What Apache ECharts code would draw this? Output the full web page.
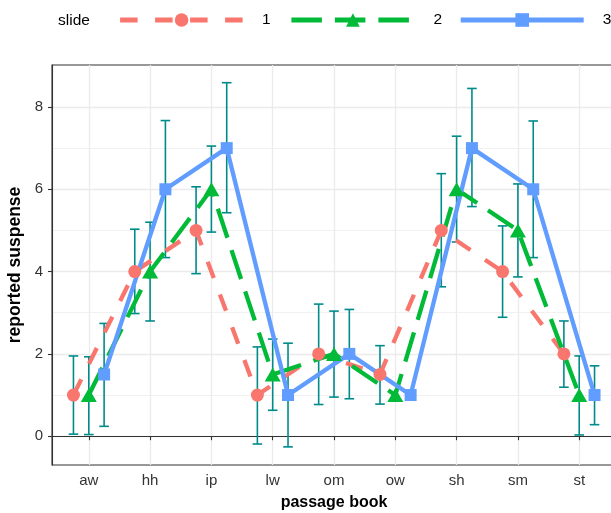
<!DOCTYPE html>
<html><head><meta charset="utf-8">
<script src="https://cdn.jsdelivr.net/npm/echarts@6/dist/echarts.min.js"></script>
<style>html,body{margin:0;padding:0;background:#fff}#c{width:611px;height:513px}</style>
</head><body><div id="c"></div>
<script>
const categories = ['aw','hh','ip','lw','om','ow','sh','sm','st'];
const seriesNames = ['1','2','3'];
const mean1 = [1,4,5,1,2,1.5,5,4,2];
const mean2 = [1,4,6,1.5,2,1,6,5,1];
const mean3 = [1.5,6,7,1,2,1,7,6,1];
const low1  = [0.05,2.98,3.95,-0.19,0.77,0.78,3.63,2.89,1.19];
const high1 = [1.95,5.03,6.06,2.17,3.21,2.2,6.38,5.11,2.8];
const low2  = [0.04,2.8,4.96,0.63,0.95,null,4.72,3.87,0.03];
const high2 = [1.93,5.2,7.05,2.36,3.04,null,7.29,6.13,1.95];
const low3  = [0.24,4.34,5.43,-0.26,0.91,null,5.58,4.34,0.28];
const high3 = [2.74,7.67,8.59,2.26,3.08,null,8.45,7.66,1.71];
const yTicks = [0,2,4,6,8];
const yMinor = [1,3,5,7];

const means = [mean1, mean2, mean3];
const lows = [low1, low2, low3];
const highs = [high1, high2, high3];
const offsets = [-0.25, 0, 0.25];
const colors = ['#F8766D', '#00BA38', '#619CFF'];
const dashes = [[17.5,17.5],[30.5,13],'solid'];
const symbols = ['circle','triangle','rect'];
const symSizes = [13,[16,14],12];
const FONT = '"Liberation Sans", Arial, sans-serif';

const chart = echarts.init(document.getElementById('c'), null, {renderer:'canvas'});

const errData = [];
for (let k = 0; k < 3; k++) {
  for (let i = 0; i < categories.length; i++) {
    if (lows[k][i] !== null && highs[k][i] !== null) {
      errData.push([i + 1 + offsets[k], lows[k][i], highs[k][i]]);
    }
  }
}

const lineSeries = [0,1,2].map(k => ({
  name: seriesNames[k],
  type: 'line',
  z: 3,
  data: means[k].map((v, i) => [i + 1 + offsets[k], v]),
  symbol: symbols[k],
  symbolSize: symSizes[k],
  showSymbol: true,
  itemStyle: {color: colors[k]},
  lineStyle: {color: colors[k], width: 4.3, type: dashes[k], cap: 'butt'},
  emphasis: {disabled: true},
  animation: false
}));

const legendLefts = [112.7, 284, 453.3];
const legends = [0,1,2].map(k => ({
  data: [seriesNames[k]],
  left: legendLefts[k],
  top: 7,
  itemWidth: 123,
  itemHeight: 17,
  selectedMode: false,
  lineStyle: {width: 4.8},
  textStyle: {fontFamily: FONT, fontSize: 15.5, color: '#000', padding: [0,0,0,14]}
}));

chart.setOption({
  animation: false,
  backgroundColor: '#fff',
  legend: legends,
  graphic: [{
    type: 'text', left: 58, top: 13,
    style: {text: 'slide', font: '15.5px ' + FONT, fill: '#000'}
  }],
  grid: {left: 52, top: 65, width: 564, height: 400, show: true, borderColor: '#333333', borderWidth: 1.1,
    containLabel: false, outerBoundsMode: 'none'},
  xAxis: {
    type: 'value', min: 0.4, max: 9.6,
    name: 'passage book', nameLocation: 'middle', nameGap: 30,
    nameTextStyle: {fontFamily: FONT, fontSize: 16, fontWeight: 'bold', color: '#000'},
    axisLine: {show: true, lineStyle: {color: '#333333', width: 1.1}},
    axisTick: {show: true, length: 4, customValues: [1,2,3,4,5,6,7,8,9], lineStyle: {color: '#333333', width: 1.1}},
    axisLabel: {customValues: [1,2,3,4,5,6,7,8,9], margin: 8, fontFamily: FONT, fontSize: 15, color: '#333',
      formatter: v => categories[Math.round(v) - 1] || ''},
    splitLine: {show: true, lineStyle: {color: '#EBEBEB', width: 1.3}}
  },
  yAxis: [{
    type: 'value', min: -0.70, max: 9.02,
    name: 'reported suspense', nameLocation: 'middle', nameGap: 28,
    nameTextStyle: {fontFamily: FONT, fontSize: 17.5, fontWeight: 'bold', color: '#000'},
    axisLine: {show: true, lineStyle: {color: '#333333', width: 1.1}},
    axisTick: {show: true, length: 4, customValues: yTicks, lineStyle: {color: '#333333', width: 1.1}},
    axisLabel: {customValues: yTicks, margin: 9, fontFamily: FONT, fontSize: 15, color: '#333'},
    splitLine: {show: true, lineStyle: {color: '#EBEBEB', width: 1.3}}
  }, {
    type: 'value', min: -0.70, max: 9.02, position: 'left',
    axisLine: {show: false}, axisTick: {show: false, customValues: yMinor},
    axisLabel: {show: false, customValues: yMinor},
    splitLine: {show: true, lineStyle: {color: '#EBEBEB', width: 0.7}}
  }],
  series: [{
    type: 'custom',
    z: 2,
    data: errData,
    renderItem: function (params, api) {
      const x = api.value(0);
      const lo = api.coord([x, api.value(1)]);
      const hi = api.coord([x, api.value(2)]);
      const hw = 4.8;
      const st = {stroke: '#008B8B', lineWidth: 1.6, fill: null};
      return {type: 'group', children: [
        {type: 'line', shape: {x1: lo[0], y1: lo[1], x2: hi[0], y2: hi[1]}, style: st},
        {type: 'line', shape: {x1: lo[0]-hw, y1: lo[1], x2: lo[0]+hw, y2: lo[1]}, style: st},
        {type: 'line', shape: {x1: hi[0]-hw, y1: hi[1], x2: hi[0]+hw, y2: hi[1]}, style: st}
      ]};
    },
    silent: true
  }].concat(lineSeries)
});
</script></body></html>
